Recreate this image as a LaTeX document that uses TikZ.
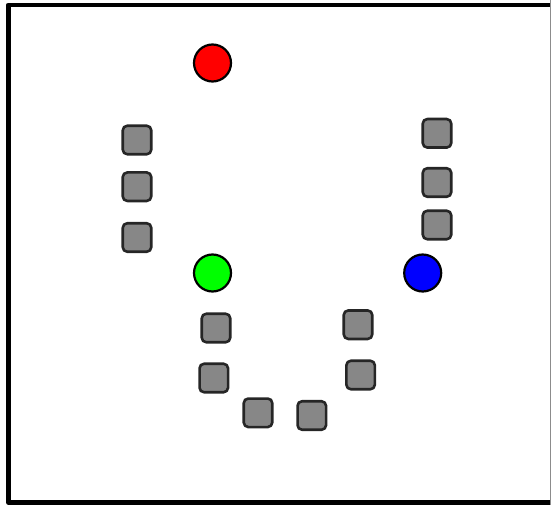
\documentclass[tikz,border=0pt]{standalone}
\usepackage{tikz}

\begin{document}
\begin{tikzpicture}[x=1pt, y=-1pt, line join=round,
  dot/.style={circle, draw=black, line width=2.2pt, minimum size=37pt, inner sep=0pt},
  tile/.style={rectangle, draw=black!85, line width=2.6pt, rounded corners=4.5pt,
               fill=black!47, minimum size=28.5pt, inner sep=0pt}]

  %% ════ 边框 ════
  \draw[line width=4.4pt] (556.0,4.8) -- (8.4,4.8) -- (8.4,502.5) -- (556.0,502.5);
  \draw[line width=1.2pt, black!45] (550.4,0.0) -- (550.4,505.0);

  %% ════ 彩色圆点 ════
  \node[dot, fill=red]        (red)   at (212.5,63.0)  {};
  \node[dot, fill=green]      (green) at (212.5,273.0) {};
  \node[dot, fill=blue]       (blue)  at (422.7,273.0) {};

  %% ════ 左列方块 ════
  \node[tile] (l1) at (137.0,140.0) {};
  \node[tile] (l2) at (137.0,186.7) {};
  \node[tile] (l3) at (137.0,237.5) {};

  %% ════ 右列方块 ════
  \node[tile] (r1) at (437.0,133.3) {};
  \node[tile] (r2) at (437.0,182.5) {};
  \node[tile] (r3) at (437.0,225.0) {};

  %% ════ 下方 U 形方块 ════
  \node[tile] (u1) at (216.0,328.0) {};
  \node[tile] (u2) at (213.8,378.0) {};
  \node[tile] (u3) at (258.0,412.8) {};
  \node[tile] (u4) at (311.8,415.5) {};
  \node[tile] (u5) at (360.6,375.0) {};
  \node[tile] (u6) at (358.0,324.7) {};

  % 钉死画布
  \pgfresetboundingbox
  \path[use as bounding box] (0,0) rectangle (551,505);
\end{tikzpicture}
\end{document}
